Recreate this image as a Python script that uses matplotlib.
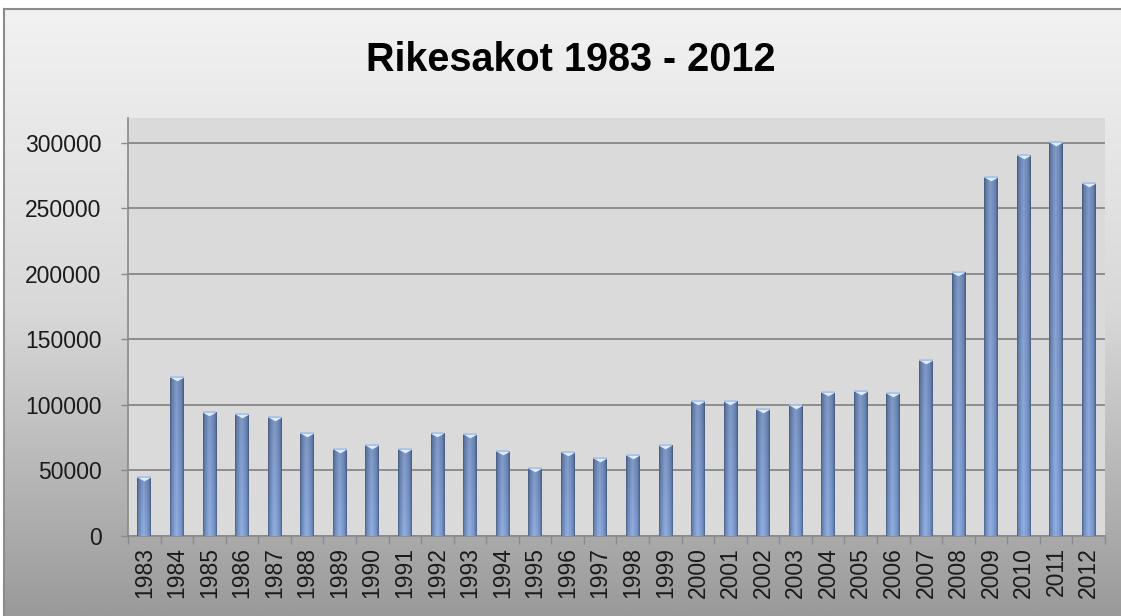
import matplotlib
matplotlib.use("Agg")
import matplotlib.pyplot as plt
import numpy as np
from matplotlib.colors import LinearSegmentedColormap
from matplotlib.path import Path

years = [str(y) for y in range(1983, 2013)]
values = [45000, 121000, 94700, 93100, 91100, 78900, 66600, 69500, 66600, 78900,
          77900, 64600, 51700, 63900, 59300, 61800, 69500, 103000, 103000, 96700,
          99800, 109700, 110700, 108900, 134100, 201500, 273800, 290600, 301000, 269200]
yticks = [0, 50000, 100000, 150000, 200000, 250000, 300000]
title = "Rikesakot 1983 - 2012"

W, H = 1121, 616
fig = plt.figure(figsize=(W / 100, H / 100), dpi=100)
fig.patch.set_facecolor("white")

# background gradient chart area
bg = fig.add_axes([4 / W, 0, 1 - 4 / W, 1 - 9 / H], zorder=-10)
grad = np.linspace(0, 1, 256).reshape(-1, 1)
bg_cmap = LinearSegmentedColormap.from_list("bg", ["#f2f2f2", "#d8d8d8", "#9a9a9a"])
bg.imshow(grad, aspect="auto", cmap=bg_cmap, extent=[0, 1, 0, 1], origin="upper")
bg.set_xlim(0, 1)
bg.set_ylim(0, 1)
bg.set_xticks([])
bg.set_yticks([])
for s in ["right", "bottom"]:
    bg.spines[s].set_visible(False)
for s in ["left", "top"]:
    bg.spines[s].set_color("#8c8c8c")
    bg.spines[s].set_linewidth(1.5)

ax = fig.add_axes([128 / W, 80 / H, (1105 - 128) / W, (536 - 118) / H])
ax.set_facecolor("#dadada")
x = np.arange(len(years))
bw = 0.42
bars = ax.bar(x, values, width=bw, color="#7a98cb", edgecolor="none", zorder=3)

# horizontal gradient in bars
bar_cmap = LinearSegmentedColormap.from_list(
    "bar", [(0.0, "#4a5f85"), (0.1, "#6a86b6"), (0.45, "#92b0e3"), (0.8, "#7895c8"), (0.92, "#647ead"), (1.0, "#4a5f85")])
hg = np.linspace(0, 1, 64).reshape(1, -1)
vshade = np.linspace(0.0, 1.0, 64).reshape(-1, 1)
for b in bars:
    x0 = b.get_x()
    w = b.get_width()
    h = b.get_height()
    im = ax.imshow(np.repeat(hg, 8, axis=0), aspect="auto", cmap=bar_cmap,
                   extent=[x0, x0 + w, 0, h], zorder=3.5, interpolation="bilinear")
    im.set_clip_path(b)
    shade = ax.imshow(np.dstack([np.zeros((64, 1, 3)), (vshade[::-1] * 0.12)[:, :, None].reshape(64, 1, 1)]),
                      aspect="auto", extent=[x0, x0 + w, 0, h], zorder=3.6, origin="upper",
                      interpolation="bilinear")
    shade.set_clip_path(b)

# bevel triangles on bar tops
tri = Path([(-1, 0), (1, 0), (0, -0.55), (-1, 0)], [Path.MOVETO, Path.LINETO, Path.LINETO, Path.CLOSEPOLY])
ax.plot(x, values, linestyle="none", marker=tri, markersize=10, markerfacecolor="#dcedff",
        markeredgecolor="none", zorder=4)
ax.hlines(values, x - bw / 2, x + bw / 2, colors="#a9c4ee", linewidth=1.2, zorder=4)

ax.set_xlim(-0.5, len(years) - 0.5)
ax.set_ylim(0, 319000)
ax.set_yticks(yticks)
ax.set_yticklabels([str(v) for v in yticks])
ax.yaxis.grid(True, color="#878787", linewidth=1.3, zorder=1)
ax.set_axisbelow(True)

ax.set_xticks(x)
ax.set_xticklabels(years, rotation=90)
ax.set_xticks(np.arange(-0.5, len(years)), minor=True)
ax.tick_params(axis="x", which="major", length=0, pad=8, labelsize=16.5, labelcolor="#1a1a1a")
ax.tick_params(axis="x", which="minor", length=6, color="#8a8a8a", width=1)
ax.tick_params(axis="y", which="major", length=5, color="#8a8a8a", width=1, pad=14,
               labelsize=16.5, labelcolor="#1a1a1a")
for lab in ax.get_xticklabels() + ax.get_yticklabels():
    lab.set_family(["Liberation Sans", "DejaVu Sans"])

for s in ["top", "right"]:
    ax.spines[s].set_visible(False)
for s in ["left", "bottom"]:
    ax.spines[s].set_color("#8a8a8a")
    ax.spines[s].set_linewidth(1.2)

fig.text(571 / W, 1 - 60 / H, title, ha="center", va="center", fontsize=28.5, fontweight="bold",
         family=["Liberation Sans", "DejaVu Sans"], color="#000000")

fig.savefig("out.png", dpi=100)
